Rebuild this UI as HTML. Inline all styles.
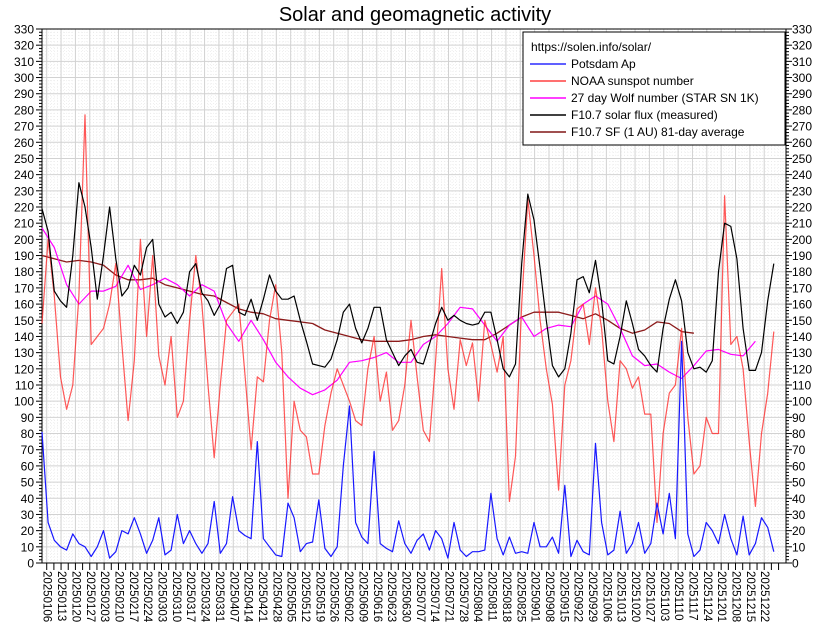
<!DOCTYPE html>
<html><head><meta charset="utf-8"><style>
html,body{margin:0;padding:0;background:#fff;}
svg{display:block;font-family:"Liberation Sans",sans-serif;}
</style></head><body>
<svg id="chart" width="830" height="642" viewBox="0 0 830 642" xmlns="http://www.w3.org/2000/svg">
<rect x="0" y="0" width="830" height="642" fill="#fff"/>
<text x="415" y="21" text-anchor="middle" font-size="20" fill="#000">Solar and geomagnetic activity</text>
<g id="grid"></g>
<g id="axes"></g>
<g id="series"></g>
<g id="legend">
<rect x="523" y="32" width="262" height="113" fill="#fff" stroke="#000" stroke-width="1"/>
<text x="531" y="51" font-size="12">https://solen.info/solar/</text>
<g><line x1="530" y1="64" x2="566" y2="64" stroke="#6060ff" stroke-width="2"/><text x="571" y="68" font-size="12">Potsdam Ap</text></g>
<g><line x1="530" y1="81" x2="566" y2="81" stroke="#ff7070" stroke-width="2"/><text x="571" y="85" font-size="12">NOAA sunspot number</text></g>
<g><line x1="530" y1="98" x2="566" y2="98" stroke="#ff40ff" stroke-width="2"/><text x="571" y="102" font-size="12">27 day Wolf number (STAR SN 1K)</text></g>
<g><line x1="530" y1="115" x2="566" y2="115" stroke="#404040" stroke-width="2"/><text x="571" y="119" font-size="12">F10.7 solar flux (measured)</text></g>
<g><line x1="530" y1="132" x2="566" y2="132" stroke="#a05050" stroke-width="2"/><text x="571" y="136" font-size="12">F10.7 SF (1 AU) 81-day average</text></g>
</g>
</svg>
<script>
// ---- data ----
const ssn = [148,200,165,115,95,110,165,277,135,140,145,160,185,135,88,125,200,140,190,128,110,140,90,100,150,190,160,110,65,110,150,155,160,117,70,115,112,150,172,130,40,100,82,78,55,55,85,105,120,110,100,88,85,120,140,100,118,82,88,110,150,115,82,75,125,182,120,95,138,122,136,100,150,135,118,140,38,66,160,225,190,150,120,98,45,110,125,157,160,135,170,145,100,75,125,120,108,115,92,92,25,80,105,110,145,90,55,60,90,80,80,227,135,140,120,75,35,80,105,143];
const f107 = [219,205,168,162,158,190,235,220,195,163,190,220,188,165,170,184,178,195,200,160,152,155,148,155,180,185,167,162,153,160,182,184,155,153,163,150,163,178,168,163,163,165,150,137,123,122,121,126,138,155,160,145,136,145,158,158,138,130,122,128,132,124,123,135,148,158,150,153,150,148,147,148,155,155,138,120,115,123,185,228,212,182,150,122,115,120,142,175,177,167,187,162,125,123,140,162,148,132,128,122,118,145,163,175,162,130,120,121,118,125,180,210,208,188,145,119,119,130,162,185];
const ap = [81,25,14,10,8,18,12,10,4,10,20,3,7,20,18,28,18,6,14,28,5,8,30,12,20,12,6,12,38,6,12,41,20,17,15,75,15,10,5,4,37,28,7,12,13,39,9,4,10,60,97,25,16,12,69,12,9,7,26,12,6,14,18,8,20,15,3,25,8,4,7,7,8,43,15,5,16,6,7,6,25,10,10,16,6,48,4,14,7,5,74,25,5,8,32,6,12,25,6,12,37,18,43,15,137,18,4,8,25,20,12,30,15,5,29,5,12,28,22,7];
const wolf = [207,195,172,160,168,168,171,184,169,172,176,172,165,172,168,148,137,150,138,124,115,108,104,107,113,124,125,127,130,124,124,135,140,148,158,157,147,137,147,152,140,145,147,146,160,165,160,145,128,122,123,118,114,122,131,132,129,128,137];
const f107avg = [190,188,186,187,186,184,178,175,175,176,172,170,168,166,165,161,157,155,154,151,150,149,148,144,142,140,138,137,137,137,138,140,141,140,139,138,138,142,147,152,155,155,155,153,151,154,150,145,142,144,149,148,143,142];
const stepFast = 3;   // days per sample
const stepSlow = 6;
const yTicks = [0,10,20,30,40,50,60,70,80,90,100,110,120,130,140,150,160,170,180,190,200,210,220,230,240,250,260,270,280,290,300,310,320,330];
const dateLabels = ["20250106","20250113","20250120","20250127","20250203","20250210","20250217","20250224","20250303","20250310","20250317","20250324","20250331","20250407","20250414","20250421","20250428","20250505","20250512","20250519","20250526","20250602","20250609","20250616","20250623","20250630","20250707","20250714","20250721","20250728","20250804","20250811","20250818","20250825","20250901","20250908","20250915","20250922","20250929","20251006","20251013","20251020","20251027","20251103","20251110","20251117","20251124","20251201","20251208","20251215","20251222"];

// ---- scales ----
const L=42,R=786,T=29,B=563;
const yS = v => B - v*(B-T)/330;
const xS = d => L + d*2.05;
const firstLabelDay = 2.3;
const NS="http://www.w3.org/2000/svg";
function mk(tag,attrs,parent){const e=document.createElementNS(NS,tag);for(const k in attrs)e.setAttribute(k,attrs[k]);parent.appendChild(e);return e;}
const grid=document.getElementById('grid'), axes=document.getElementById('axes'), ser=document.getElementById('series');

// minor dotted grid
for(let v=0;v<=330;v+=2){ if(v%10){ const l=mk('line',{x1:L,x2:R,y1:yS(v),y2:yS(v),stroke:'#e6e6e6','stroke-width':0.6,'stroke-dasharray':'1,2'},grid);

}}
for(let d=firstLabelDay-7;d<362;d+=7/4){ const x=xS(d); if(x<L||x>R)continue; const l=mk('line',{x1:x,x2:x,y1:T,y2:B,stroke:'#e6e6e6','stroke-width':0.6,'stroke-dasharray':'1,2'},grid);

}
// major grid
yTicks.forEach(v=>{const l=mk('line',{x1:L,x2:R,y1:yS(v),y2:yS(v),stroke:'#d2d2d2','stroke-width':1},grid);

});
dateLabels.forEach((s,i)=>{const x=xS(firstLabelDay+7*i);const l=mk('line',{x1:x,x2:x,y1:T,y2:B,stroke:'#d2d2d2','stroke-width':1},grid);

});

// axes frame
const fr=mk('rect',{x:L,y:T,width:R-L,height:B-T,fill:'none',stroke:'#000','stroke-width':1},axes);


// y ticks and labels
for(let v=0;v<=330;v+=2){const y=yS(v);const len=(v%10===0)?6:3;
mk('line',{x1:L-len,x2:L,y1:y,y2:y,stroke:'#000','stroke-width':1},axes);
mk('line',{x1:R,x2:R+len,y1:y,y2:y,stroke:'#000','stroke-width':1},axes);}
yTicks.forEach(v=>{const y=yS(v)+4.5;
const t1=mk('text',{x:34,y:y,'text-anchor':'end','font-size':12},axes);t1.textContent=v;


const t2=mk('text',{x:792,y:y,'text-anchor':'start','font-size':12},axes);t2.textContent=v;

});
// x ticks
for(let d=firstLabelDay-3.5;d<362;d+=3.5){const x=xS(d);if(x<L||x>R)continue;mk('line',{x1:x,x2:x,y1:B,y2:B+7,stroke:'#000','stroke-width':1},axes);}
dateLabels.forEach((s,i)=>{const x=xS(firstLabelDay+7*i)+1;
const t=mk('text',{x:0,y:0,'font-size':11.5,transform:`translate(${x-4},571) rotate(90)`},axes);t.textContent=s;

});

function line(arr,step,color,w,name,op){
 const pts=arr.map((v,i)=>xS(i*step).toFixed(1)+','+yS(v).toFixed(1)).join(' ');
 const p=mk('polyline',{points:pts,fill:'none',stroke:color,'stroke-width':w,'stroke-linejoin':'round','stroke-opacity':op||1},ser);
 
 
}
line(f107avg,stepSlow,'#8b1a1a',1.3,'f107-81day-average-line');
line(wolf,stepSlow,'#ff00ff',1.2,'wolf-number-line');
line(ssn,stepFast,'#ff2020',1.2,'sunspot-number-line',0.75);
line(f107,stepFast,'#000',1.2,'f107-flux-line');
line(ap,stepFast,'#1818ff',1.2,'potsdam-ap-line');
</script>
</body></html>
